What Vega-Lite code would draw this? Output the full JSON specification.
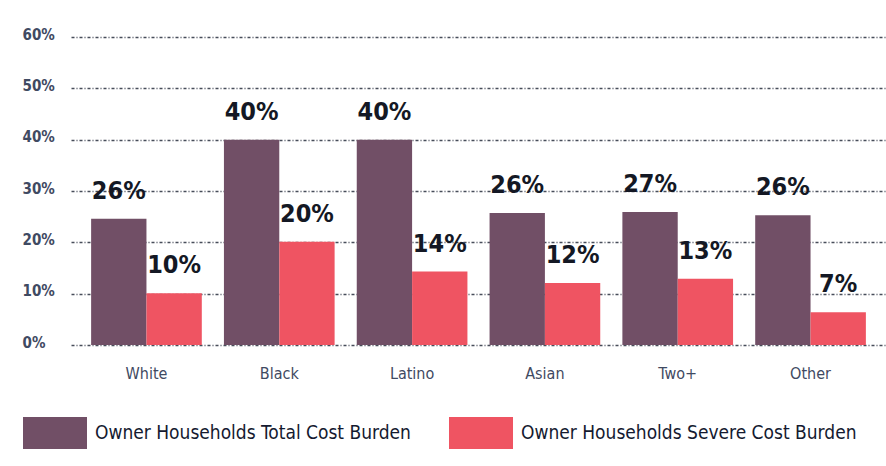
{
  "$schema": "https://vega.github.io/schema/vega-lite/v6.json",
  "width": 815,
  "height": 308,
  "autosize": {"type": "none"},
  "padding": {"left": 71, "top": 37, "right": 0, "bottom": 121},
  "background": "white",
  "config": {
    "view": {"stroke": null},
    "font": "DejaVu Sans Condensed, Roboto, sans-serif"
  },
  "data": {
    "values": [
      {"group": "White", "series": "Owner Households Total Cost Burden", "value": 24.6, "label": "26%"},
      {"group": "White", "series": "Owner Households Severe Cost Burden", "value": 10.1, "label": "10%"},
      {"group": "Black", "series": "Owner Households Total Cost Burden", "value": 40.0, "label": "40%"},
      {"group": "Black", "series": "Owner Households Severe Cost Burden", "value": 20.1, "label": "20%"},
      {"group": "Latino", "series": "Owner Households Total Cost Burden", "value": 40.0, "label": "40%"},
      {"group": "Latino", "series": "Owner Households Severe Cost Burden", "value": 14.3, "label": "14%"},
      {"group": "Asian", "series": "Owner Households Total Cost Burden", "value": 25.7, "label": "26%"},
      {"group": "Asian", "series": "Owner Households Severe Cost Burden", "value": 12.1, "label": "12%"},
      {"group": "Two+", "series": "Owner Households Total Cost Burden", "value": 25.9, "label": "27%"},
      {"group": "Two+", "series": "Owner Households Severe Cost Burden", "value": 12.9, "label": "13%"},
      {"group": "Other", "series": "Owner Households Total Cost Burden", "value": 25.3, "label": "26%"},
      {"group": "Other", "series": "Owner Households Severe Cost Burden", "value": 6.4, "label": "7%"}
    ]
  },
  "encoding": {
    "x": {
      "field": "group",
      "type": "nominal",
      "sort": null,
      "scale": {"paddingInner": 0.1667, "paddingOuter": 0.1515},
      "axis": {
        "title": null,
        "labelAngle": 0,
        "domain": false,
        "ticks": false,
        "tickSize": 0,
        "labelPadding": 20,
        "labelBaseline": "top",
        "labelFont": "DejaVu Sans Condensed, Roboto, sans-serif",
        "labelFontSize": 16,
        "labelColor": "#3f4a62"
      }
    },
    "xOffset": {
      "field": "series",
      "type": "nominal",
      "sort": ["Owner Households Total Cost Burden", "Owner Households Severe Cost Burden"],
      "scale": {"paddingInner": 0, "paddingOuter": 0}
    },
    "y": {
      "field": "value",
      "type": "quantitative",
      "scale": {"domain": [0, 60], "nice": false},
      "axis": {
        "title": null,
        "values": [0, 10, 20, 30, 40, 50, 60],
        "labelExpr": "datum.value + '%'",
        "domain": false,
        "ticks": false,
        "tickSize": 0,
        "labelAlign": "left",
        "labelBaseline": "middle",
        "labelPadding": 49,
        "labelOffset": -3,
        "labelFont": "DejaVu Sans Condensed, Roboto, sans-serif",
        "labelFontSize": 15,
        "labelFontWeight": "bold",
        "labelColor": "#3f4a62",
        "grid": true,
        "gridColor": "#474d5a",
        "gridWidth": 1.5,
        "gridDash": [3, 2, 1, 2]
      }
    }
  },
  "layer": [
    {
      "mark": {"type": "bar"},
      "encoding": {
        "color": {
          "field": "series",
          "type": "nominal",
          "sort": ["Owner Households Total Cost Burden", "Owner Households Severe Cost Burden"],
          "scale": {"range": ["#714f66", "#ef5462"]},
          "legend": {
            "title": null,
            "orient": "none",
            "legendX": -48,
            "legendY": 364,
            "direction": "horizontal",
            "columns": 2,
            "padding": 0,
            "columnPadding": 38,
            "symbolType": "M-1,-0.5H1V0.5H-1Z",
            "symbolSize": 4096,
            "symbolStrokeWidth": 0,
            "symbolOpacity": 1,
            "labelOffset": 8,
            "labelLimit": 600,
            "labelFont": "DejaVu Sans Condensed, Roboto, sans-serif",
            "labelFontSize": 19,
            "labelColor": "#141a30"
          }
        }
      }
    },
    {
      "mark": {
        "type": "text",
        "dy": -20,
        "baseline": "alphabetic",
        "align": "center",
        "font": "DejaVu Sans Condensed, Roboto, sans-serif",
        "fontWeight": "bold",
        "fontSize": 25,
        "color": "#141824"
      },
      "encoding": {
        "text": {"field": "label", "type": "nominal"}
      }
    }
  ]
}
